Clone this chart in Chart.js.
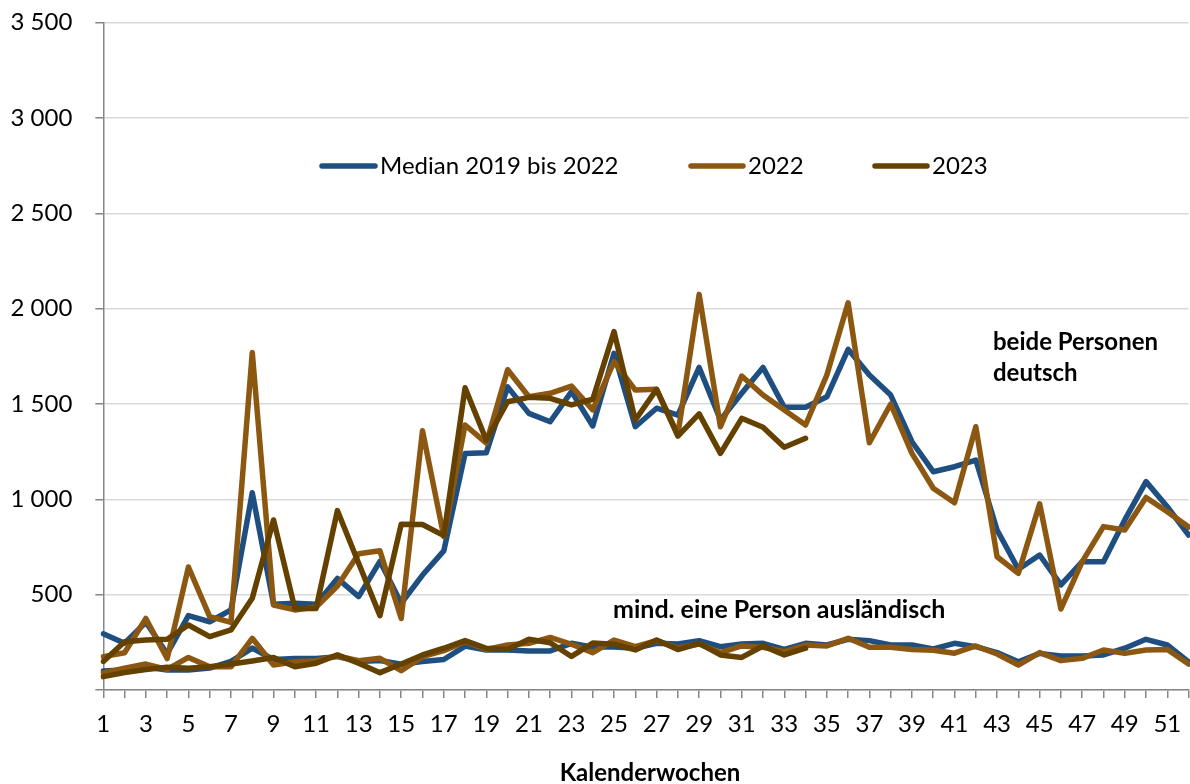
<!DOCTYPE html>
<html>
<head>
<meta charset="utf-8">
<script src="https://cdn.jsdelivr.net/npm/chart.js@4.4.1/dist/chart.umd.min.js"></script>
<style>
  html, body { margin: 0; padding: 0; background: #ffffff; }
  #wrap { width: 1190px; height: 784px; position: relative; }
</style>
</head>
<body>
<div id="wrap"><canvas id="c" width="1190" height="784"></canvas></div>
<script>
// ---- Data ----
const weeks = ['1','2','3','4','5','6','7','8','9','10','11','12','13','14','15','16','17','18','19','20',
  '21','22','23','24','25','26','27','28','29','30','31','32','33','34','35','36','37','38','39','40',
  '41','42','43','44','45','46','47','48','49','50','51','52'];

const seriesNames = ['Median 2019 bis 2022', '2022', '2023'];

// beide Personen deutsch
const medianDeutsch = [295,245,355,190,390,358,420,1035,450,455,450,585,490,675,455,603,730,1240,1245,1590,
  1451,1407,1565,1385,1766,1381,1478,1442,1692,1416,1556,1692,1483,1483,1538,1787,1652,1547,1302,1145,
  1171,1206,839,633,708,551,673,673,892,1093,961,813];
const deutsch2022 = [175,195,375,165,645,385,355,1770,446,420,435,545,715,730,375,1360,805,1390,1295,1680,
  1538,1556,1594,1469,1722,1573,1577,1340,2075,1381,1647,1547,1469,1390,1652,2031,1297,1500,1241,1058,
  982,1381,699,612,976,425,673,857,839,1010,935,855];
const deutsch2023 = [150,253,262,266,341,280,315,481,892,428,428,941,665,390,870,868,810,1585,1310,1512,
  1535,1530,1495,1525,1880,1416,1577,1332,1448,1241,1425,1378,1273,1320];

// mind. eine Person ausländisch
const medianAusl = [100,105,120,105,105,115,150,220,160,165,165,175,150,155,135,150,160,230,210,210,
  205,205,245,225,225,219,245,241,259,227,241,245,213,245,236,266,259,236,236,215,
  245,227,196,148,192,178,178,184,219,266,236,148];
const ausl2022 = [90,114,136,108,171,122,122,271,131,148,154,178,154,166,101,175,206,253,213,236,
  245,276,240,196,262,227,259,220,241,196,231,224,201,236,231,271,224,224,213,208,
  193,231,189,131,196,154,166,210,192,210,213,136];
const ausl2023 = [70,91,108,119,114,122,136,152,170,122,140,184,140,91,136,184,219,259,219,213,
  266,248,176,246,240,210,262,212,245,184,171,231,184,219];

const yTicks = [0,500,1000,1500,2000,2500,3000,3500];
const groupLabels = ['beide Personen', 'deutsch', 'mind. eine Person ausländisch'];
const axisTitle = 'Kalenderwochen';

// ---- Styles ----
const colMedian = '#1F4E80';
const col2022 = '#8C5710';
const col2023 = '#654100';
const FONT = 'Lato';
const LW = 5.5;

function fmt(v) {
  if (v === 0) return '';
  if (v >= 1000) return Math.floor(v / 1000) + ' ' + String(v % 1000).padStart(3, '0');
  return String(v);
}

function ds(label, data, color, order) {
  return {
    label, data, borderColor: color, backgroundColor: color,
    borderWidth: LW, pointRadius: 0, pointHoverRadius: 0, tension: 0,
    borderJoinStyle: 'round', borderCapStyle: 'round', fill: false, order
  };
}

const overlay = {
  id: 'overlay',
  afterDraw(chart) {
    const ctx = chart.ctx;
    ctx.save();
    // legend
    const legendItems = [
      { name: seriesNames[0], color: colMedian, x0: 322, x1: 375, tx: 380 },
      { name: seriesNames[1], color: col2022, x0: 691, x1: 743, tx: 748 },
      { name: seriesNames[2], color: col2023, x0: 875, x1: 927, tx: 932 }
    ];
    const ly = 166;
    legendItems.forEach(it => {
      ctx.strokeStyle = it.color;
      ctx.lineWidth = LW;
      ctx.lineCap = 'round';
      ctx.beginPath();
      ctx.moveTo(it.x0, ly);
      ctx.lineTo(it.x1, ly);
      ctx.stroke();
      ctx.fillStyle = '#000';
      ctx.font = '24px ' + FONT;
      ctx.textAlign = 'left';
      ctx.textBaseline = 'middle';
      ctx.fillText(it.name, it.tx, ly);
    });
    // group annotations
    ctx.font = 'bold 24px ' + FONT;
    ctx.fillStyle = '#000';
    ctx.textAlign = 'left';
    ctx.textBaseline = 'middle';
    ctx.fillText(groupLabels[0], 993, 342);
    ctx.fillText(groupLabels[1], 993, 373);
    ctx.font = 'bold 25px ' + FONT;
    ctx.fillText(groupLabels[2], 613, 610);
    // axis title
    ctx.font = 'bold 24px ' + FONT;
    ctx.textAlign = 'center';
    ctx.fillText(axisTitle, 650, 773);
    ctx.restore();
  }
};

new Chart(document.getElementById('c'), {
  type: 'line',
  data: {
    labels: weeks,
    datasets: [
      ds(seriesNames[0], medianDeutsch, colMedian, 6),
      ds(seriesNames[1], deutsch2022, col2022, 5),
      ds(seriesNames[2], deutsch2023, col2023, 4),
      ds(seriesNames[0], medianAusl, colMedian, 3),
      ds(seriesNames[1], ausl2022, col2022, 2),
      ds(seriesNames[2], ausl2023, col2023, 1)
    ]
  },
  options: {
    responsive: false,
    animation: false,
    devicePixelRatio: 1,
    layout: { padding: { top: 22.7, right: 1.4, bottom: 0, left: 0 } },
    plugins: { legend: { display: false }, tooltip: { enabled: false } },
    scales: {
      x: {
        type: 'category',
        offset: false,
        grid: { display: true, drawOnChartArea: false, drawTicks: true, tickLength: 8, color: '#868686', tickColor: '#868686', lineWidth: 1.5, offset: false },
        border: { display: true, color: '#868686', width: 1.5 },
        ticks: {
          autoSkip: false, maxRotation: 0, minRotation: 0, padding: 12,
          color: '#000', font: { family: FONT, size: 24 },
          callback: function (val, idx) { return idx % 2 === 0 ? weeks[idx] : ''; }
        },
        afterFit: s => { s.height = 94; s.paddingLeft = 0; s.paddingRight = 0; }
      },
      y: {
        min: 0, max: 3500,
        afterBuildTicks: s => { s.ticks = yTicks.map(v => ({ value: v })); },
        grid: { color: '#D9D9D9', lineWidth: 1.5, tickLength: 8, tickColor: '#868686' },
        border: { display: true, color: '#868686', width: 1.5 },
        ticks: {
          padding: 23, color: '#000', font: { family: FONT, size: 24 },
          callback: v => fmt(v)
        },
        afterFit: s => { s.width = 103.3; s.paddingTop = 0; s.paddingBottom = 0; }
      }
    }
  },
  plugins: [overlay]
});
</script>
</body>
</html>
